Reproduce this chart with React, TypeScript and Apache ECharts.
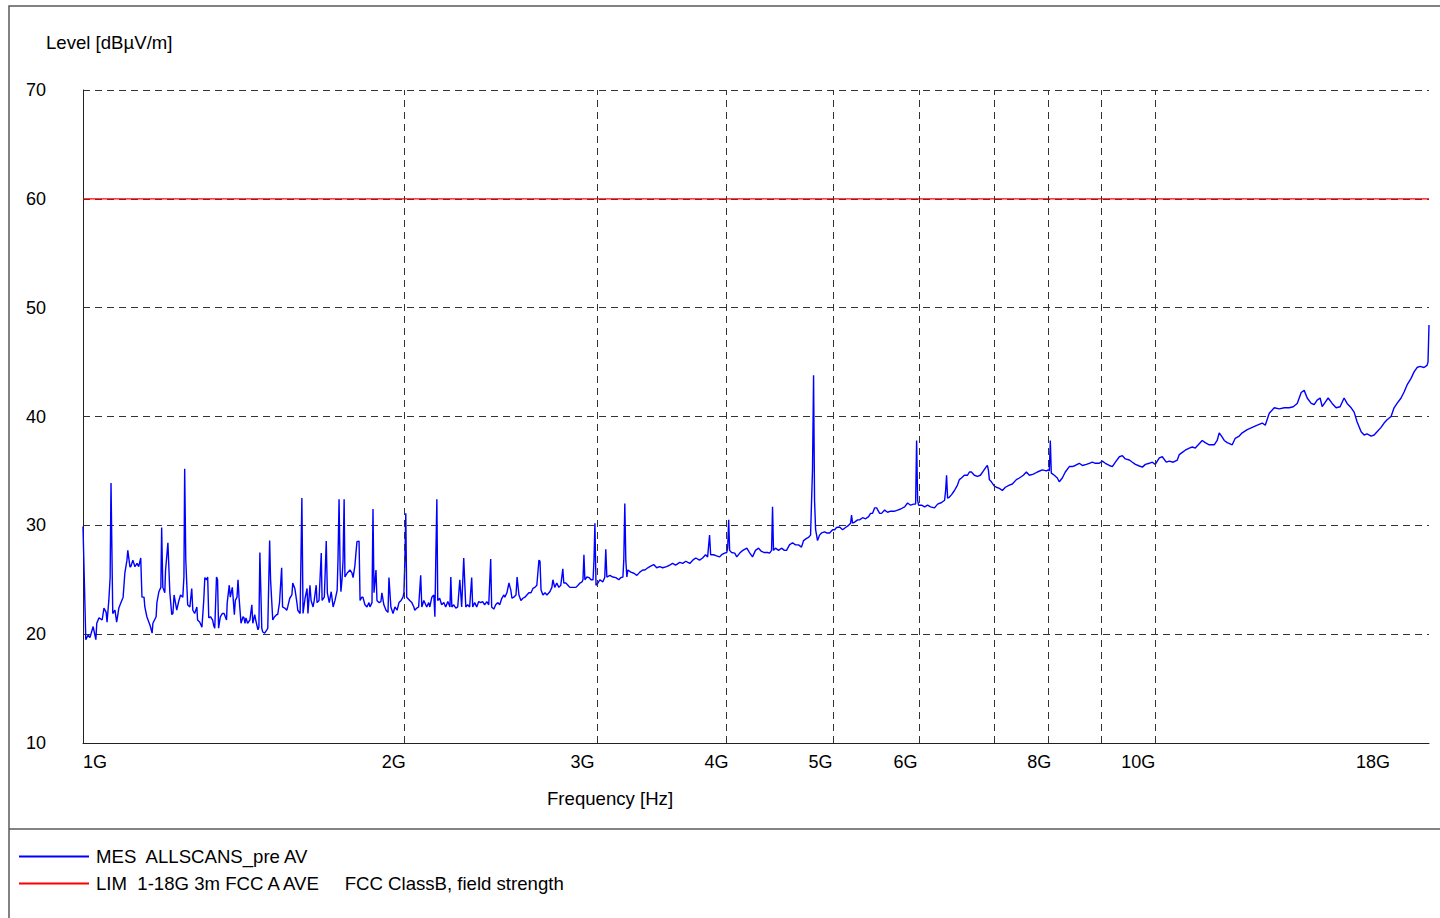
import React, { useEffect, useRef } from "react";
import * as echarts from "echarts";

// ---- Data (frequency in MHz, level in dBµV/m) ----
const MES_TRACE: [number, number][] = [
  [1000, 29.9], [1006, 19.5], [1011, 19.9], [1015, 19.7], [1020, 20.4], [1022, 20.7], [1028, 19.5], [1030, 21.0],
  [1035, 21.5], [1042, 21.3], [1046, 22.4], [1051, 22.0], [1053, 21.1], [1057, 23.1], [1060, 25.2], [1062, 33.9],
  [1066, 21.9], [1071, 22.2], [1075, 21.1], [1080, 22.4], [1085, 22.9], [1090, 23.4], [1094, 25.6], [1099, 26.8],
  [1101, 27.7], [1106, 26.2], [1108, 26.2], [1113, 26.8], [1118, 26.2], [1123, 26.5], [1127, 26.2], [1132, 27.0],
  [1135, 23.4], [1140, 23.4], [1142, 22.5], [1147, 21.6], [1152, 21.1], [1155, 20.8], [1160, 20.1], [1162, 21.0],
  [1170, 21.6], [1172, 22.9], [1177, 23.9], [1182, 24.3], [1184, 29.8], [1187, 24.3], [1192, 23.8], [1194, 25.9],
  [1200, 28.4], [1205, 23.8], [1210, 21.8], [1213, 21.9], [1216, 23.6], [1223, 22.2], [1228, 23.0], [1233, 23.6],
  [1239, 23.4], [1242, 25.25], [1244, 35.2], [1247, 26.8], [1252, 22.7], [1258, 22.5], [1263, 24.2], [1266, 22.2],
  [1271, 21.9], [1277, 22.5], [1279, 21.3], [1285, 21.1], [1291, 20.65], [1296, 23.1], [1299, 25.2], [1304, 25.0],
  [1307, 25.25], [1310, 21.5], [1315, 21.6], [1321, 21.3], [1324, 20.8], [1327, 20.55], [1332, 25.25], [1335, 25.0],
  [1338, 20.55], [1343, 21.6], [1349, 21.9], [1354, 21.9], [1361, 21.3], [1363, 22.9], [1369, 24.5], [1372, 23.4],
  [1378, 24.3], [1381, 23.1], [1384, 21.8], [1387, 23.1], [1392, 23.4], [1395, 25.0], [1398, 23.4], [1404, 21.0],
  [1410, 21.6], [1413, 21.5], [1416, 21.0], [1419, 21.5], [1424, 21.0], [1431, 21.3], [1437, 22.7], [1440, 21.0],
  [1446, 21.8], [1449, 21.3], [1456, 20.4], [1459, 20.65], [1462, 27.5], [1468, 20.55], [1471, 20.2], [1477, 20.1],
  [1484, 20.4], [1487, 20.55], [1493, 28.6], [1496, 25.0], [1503, 21.3], [1509, 21.6], [1516, 21.8], [1519, 21.8],
  [1525, 22.9], [1532, 26.1], [1535, 22.5], [1542, 22.4], [1549, 22.2], [1552, 22.5], [1559, 23.3], [1566, 23.6],
  [1569, 24.7], [1576, 24.2], [1583, 22.9], [1586, 22.2], [1594, 21.9], [1600, 32.5], [1604, 21.9], [1611, 23.3],
  [1618, 24.2], [1621, 21.9], [1628, 24.5], [1632, 23.1], [1639, 22.5], [1643, 23.1], [1650, 24.5], [1653, 22.9],
  [1660, 23.1], [1668, 27.45], [1671, 23.1], [1679, 23.4], [1686, 28.55], [1690, 23.8], [1697, 22.9], [1704, 23.9],
  [1711, 22.5], [1718, 23.1], [1726, 24.05], [1729, 26.8], [1733, 32.4], [1737, 25.9], [1740, 23.9], [1744, 25.0],
  [1748, 26.8], [1752, 32.4], [1755, 25.25], [1763, 25.6], [1774, 25.9], [1782, 25.6], [1786, 25.2], [1793, 26.3],
  [1797, 27.45], [1801, 28.5], [1809, 28.55], [1813, 23.1], [1820, 23.4], [1824, 23.4], [1832, 22.7], [1840, 22.5],
  [1848, 22.9], [1852, 22.5], [1860, 22.9], [1864, 31.5], [1868, 23.8], [1876, 25.9], [1880, 23.1], [1888, 22.9],
  [1896, 23.0], [1900, 23.8], [1908, 22.7], [1917, 22.2], [1925, 22.0], [1929, 25.2], [1937, 22.5], [1946, 21.9],
  [1954, 22.5], [1963, 22.2], [1971, 22.9], [1980, 23.1], [1988, 23.4], [1992, 23.8], [1996, 26.8], [2000, 31.1],
  [2004, 23.4], [2017, 23.1], [2026, 22.9], [2035, 22.5], [2039, 22.2], [2048, 22.4], [2056, 22.5], [2065, 25.4],
  [2070, 22.5], [2079, 23.1], [2092, 22.5], [2101, 22.9], [2106, 22.5], [2115, 23.4], [2124, 23.6], [2129, 21.6],
  [2133, 26.8], [2138, 32.4], [2142, 23.1], [2151, 23.3], [2160, 22.7], [2170, 22.9], [2179, 22.5], [2189, 23.0],
  [2199, 22.5], [2203, 25.25], [2208, 22.5], [2217, 22.7], [2227, 22.4], [2236, 22.5], [2246, 25.0], [2255, 22.5],
  [2265, 27.0], [2275, 22.5], [2284, 22.7], [2294, 22.5], [2304, 25.2], [2309, 22.5], [2319, 22.9], [2329, 22.5],
  [2339, 23.0], [2349, 22.9], [2359, 23.0], [2369, 22.7], [2380, 23.0], [2390, 22.7], [2400, 26.9], [2405, 22.5],
  [2416, 22.3], [2426, 22.7], [2436, 22.9], [2447, 22.7], [2458, 23.3], [2469, 23.6], [2474, 23.4], [2485, 23.8],
  [2496, 24.7], [2506, 24.05], [2512, 23.3], [2522, 23.4], [2534, 23.6], [2540, 25.25], [2550, 23.6], [2561, 23.1],
  [2572, 23.3], [2583, 23.4], [2594, 23.6], [2605, 23.8], [2617, 23.8], [2628, 24.2], [2639, 24.3], [2650, 24.5],
  [2662, 26.8], [2668, 26.7], [2674, 24.05], [2685, 23.6], [2697, 23.8], [2708, 23.6], [2725, 23.9], [2737, 24.3],
  [2743, 25.0], [2754, 24.3], [2766, 24.7], [2778, 24.3], [2790, 24.5], [2802, 26.0], [2808, 24.7], [2820, 24.7],
  [2833, 24.5], [2845, 24.3], [2863, 24.3], [2882, 24.3], [2895, 24.5], [2907, 24.7], [2920, 24.8], [2926, 25.0],
  [2932, 27.3], [2938, 25.0], [2951, 25.25], [2964, 25.2], [2977, 25.0], [2990, 25.0], [2996, 26.8], [3002, 30.2],
  [3009, 24.5], [3022, 24.7], [3034, 25.0], [3053, 24.8], [3066, 25.2], [3073, 27.8], [3080, 25.25], [3100, 25.4],
  [3120, 25.25], [3140, 25.2], [3160, 25.0], [3174, 25.2], [3188, 25.25], [3194, 26.8], [3201, 32.0], [3208, 26.8],
  [3215, 25.25], [3222, 25.9], [3243, 25.7], [3264, 25.6], [3285, 25.4], [3306, 25.7], [3327, 25.9], [3342, 25.9],
  [3363, 26.1], [3377, 26.2], [3406, 26.4], [3428, 26.1], [3450, 26.2], [3472, 26.1], [3502, 26.2], [3525, 26.35],
  [3547, 26.5], [3570, 26.35], [3602, 26.6], [3625, 26.5], [3649, 26.7], [3680, 26.5], [3704, 26.8], [3728, 27.0],
  [3758, 26.8], [3783, 27.0], [3807, 27.3], [3824, 27.1], [3840, 29.1], [3849, 27.3], [3873, 27.3], [3898, 27.2],
  [3924, 27.1], [3941, 27.3], [3966, 27.45], [3984, 27.5], [3992, 27.9], [4001, 30.5], [4009, 27.7], [4026, 27.5],
  [4053, 27.45], [4071, 27.1], [4097, 27.45], [4124, 27.7], [4160, 27.9], [4184, 27.5], [4211, 27.1], [4238, 27.7],
  [4266, 27.9], [4293, 27.6], [4321, 27.5], [4349, 27.5], [4368, 27.45], [4387, 27.7], [4396, 31.7], [4405, 27.7],
  [4424, 27.9], [4453, 27.7], [4481, 27.9], [4510, 27.7], [4530, 27.7], [4559, 28.2], [4589, 28.4], [4618, 28.2],
  [4648, 28.2], [4678, 28.0], [4699, 28.6], [4729, 28.8], [4750, 28.9], [4770, 29.1], [4790, 35.1], [4801, 43.8],
  [4811, 32.3], [4822, 29.6], [4842, 28.6], [4863, 29.1], [4884, 29.3], [4916, 29.4], [4937, 29.3], [4969, 29.3],
  [5001, 29.6], [5023, 29.6], [5044, 29.8], [5077, 29.85], [5110, 29.6], [5142, 29.8], [5176, 30.0], [5198, 30.2],
  [5209, 30.95], [5220, 30.2], [5243, 30.3], [5277, 30.5], [5299, 30.5], [5334, 30.7], [5369, 30.6], [5403, 30.8],
  [5426, 31.1], [5450, 31.1], [5473, 31.6], [5497, 31.6], [5533, 31.1], [5556, 31.1], [5592, 31.4], [5628, 31.2],
  [5664, 31.3], [5714, 31.3], [5751, 31.4], [5788, 31.5], [5838, 31.7], [5875, 32.05], [5913, 31.85], [5951, 31.95],
  [5977, 31.95], [5990, 37.8], [6003, 32.3], [6016, 31.85], [6054, 31.85], [6094, 31.7], [6133, 31.85], [6172, 31.7],
  [6225, 31.6], [6266, 31.95], [6320, 32.1], [6361, 32.3], [6375, 33.2], [6388, 34.6], [6402, 32.5], [6427, 32.6],
  [6455, 32.8], [6497, 33.2], [6539, 33.7], [6566, 34.2], [6595, 34.35], [6637, 34.6], [6680, 34.6], [6709, 34.9],
  [6738, 34.9], [6781, 34.6], [6825, 34.5], [6869, 34.6], [6914, 35.0], [6958, 35.4], [6973, 35.5], [6988, 35.1],
  [7003, 34.2], [7033, 34.0], [7078, 33.6], [7109, 33.5], [7155, 33.4], [7201, 33.2], [7248, 33.5], [7310, 33.7],
  [7357, 33.8], [7421, 34.2], [7469, 34.35], [7533, 34.6], [7582, 34.9], [7631, 34.6], [7697, 34.7], [7763, 34.9],
  [7846, 35.1], [7914, 35.0], [7948, 35.1], [7965, 35.0], [7982, 37.8], [7999, 34.8], [8051, 34.6], [8103, 34.35],
  [8137, 34.0], [8190, 34.35], [8243, 34.9], [8314, 35.4], [8368, 35.4], [8422, 35.5], [8495, 35.7], [8550, 35.5],
  [8624, 35.6], [8680, 35.7], [8736, 35.8], [8792, 35.7], [8868, 35.7], [8925, 35.9], [8983, 35.7], [9061, 35.5],
  [9120, 35.4], [9179, 35.8], [9258, 36.3], [9318, 36.4], [9378, 36.1], [9459, 36.0], [9520, 35.8], [9582, 35.6],
  [9664, 35.45], [9727, 35.35], [9790, 35.6], [9872, 35.7], [9936, 35.8], [10000, 35.6], [10087, 36.2], [10152, 36.3],
  [10239, 35.8], [10306, 35.9], [10394, 35.8], [10484, 36.0], [10529, 36.5], [10597, 36.7], [10665, 36.9], [10757, 37.1],
  [10827, 37.2], [10897, 37.1], [10990, 37.5], [11061, 37.8], [11132, 37.6], [11229, 37.4], [11350, 37.4], [11421, 37.8],
  [11472, 38.5], [11546, 38.1], [11596, 37.8], [11671, 37.6], [11797, 37.4], [11873, 38.0], [11975, 38.2], [12053, 38.5],
  [12184, 38.8], [12316, 39.0], [12449, 39.2], [12583, 39.4], [12664, 39.2], [12773, 40.3], [12911, 40.8], [13050, 40.7],
  [13191, 40.8], [13333, 40.8], [13448, 40.9], [13564, 41.2], [13680, 42.2], [13768, 42.4], [13857, 41.7], [13976, 41.2],
  [14066, 41.1], [14157, 41.5], [14248, 41.7], [14310, 40.9], [14402, 41.3], [14495, 41.7], [14620, 41.2], [14745, 40.8],
  [14872, 40.9], [15000, 41.7], [15097, 41.2], [15229, 40.8], [15327, 40.4], [15426, 39.5], [15559, 38.6], [15659, 38.3],
  [15760, 38.4], [15896, 38.2], [15999, 38.3], [16102, 38.6], [16240, 39.0], [16345, 39.4], [16451, 39.7], [16592, 40.0],
  [16699, 40.8], [16807, 41.2], [16952, 41.7], [17062, 42.25], [17172, 42.9], [17320, 43.5], [17432, 44.1], [17544, 44.5],
  [17657, 44.6], [17809, 44.5], [17924, 44.7], [17962, 45.0], [18000, 48.4],
];

const LIM_FREQ_GHZ = [1, 18];
const LIM_LEVEL = [60, 60];

const X_MIN_GHZ = 1;
const X_MAX_GHZ = 18;
const X_LABEL_GHZ = [1, 2, 3, 4, 5, 6, 8, 10, 18];
const X_GRID_GHZ = [2, 3, 4, 5, 6, 7, 8, 9, 10, 18];

const Y_MIN = 10;
const Y_MAX = 70;
const Y_STEP = 10;

const MES_NAME = "MES  ALLSCANS_pre AV";
const LIM_NAME = "LIM  1-18G 3m FCC A AVE     FCC ClassB, field strength";
const MES_COLOR = "#0000ff";
const LIM_COLOR = "#ff0000";
const Y_TITLE = "Level [dBµV/m]";
const X_TITLE = "Frequency [Hz]";

const FONT = "'Liberation Sans', Arial, Helvetica, sans-serif";
const FS = 18;
const FS_TEXT = 18.6;
const GRID_COLOR = "#333";
const FRAME_COLOR = "#5a5a5a";

export default function App() {
  const ref = useRef<HTMLDivElement>(null);

  useEffect(() => {
    if (!ref.current) return;
    const chart = echarts.init(ref.current, null, { renderer: "svg" });

    const mesData = MES_TRACE.map(([mhz, db]) => [Math.log10(mhz / 1000), db]);
    const limData = LIM_FREQ_GHZ.map((f, i) => [Math.log10(f), LIM_LEVEL[i]]);

    const option: any = {
      animation: false,
      backgroundColor: "#ffffff",
      textStyle: { fontFamily: FONT },
      grid: { left: 83, top: 90, right: 11, bottom: 175, containLabel: false },
      legend: {
        orient: "vertical",
        left: 13,
        top: 842,
        itemWidth: 70,
        itemHeight: 14,
        itemGap: 8,
        selectedMode: false,
        itemStyle: { opacity: 0 },
        data: [MES_NAME, LIM_NAME],
        textStyle: { fontSize: FS_TEXT, lineHeight: 18, color: "#000", fontFamily: FONT, padding: [0, 0, 0, 2] },
      },
      xAxis: {
        type: "value",
        min: Math.log10(X_MIN_GHZ),
        max: Math.log10(X_MAX_GHZ),
        axisLine: { show: true, lineStyle: { color: "#222", width: 1 } },
        axisTick: { show: false },
        splitLine: { show: false },
        axisLabel: {
          customValues: X_LABEL_GHZ.map((g) => Math.log10(g)),
          align: "right",
          alignMinLabel: "left",
          margin: 10,
          color: "#000",
          fontSize: FS,
          fontFamily: FONT,
          formatter: (v: number) => {
            const g = Math.round(Math.pow(10, v));
            return g === 18 ? "{s|18G}" : g + "G";
          },
          rich: {
            s: { padding: [0, 39, 0, 0], fontSize: FS, fontFamily: FONT, color: "#000" },
          },
        },
      },
      yAxis: {
        type: "value",
        min: Y_MIN,
        max: Y_MAX,
        interval: Y_STEP,
        axisLine: { show: true, lineStyle: { color: "#222", width: 1 } },
        axisTick: { show: false },
        axisLabel: { margin: 37, color: "#000", fontSize: FS, fontFamily: FONT },
        splitLine: { show: true, lineStyle: { color: GRID_COLOR, type: [7, 5], width: 1 } },
      },
      series: [
        {
          name: "grid-lines",
          type: "line",
          data: [],
          symbol: "none",
          silent: true,
          z: 1,
          markLine: {
            silent: true,
            symbol: ["none", "none"],
            label: { show: false },
            emphasis: { disabled: true },
            lineStyle: { color: GRID_COLOR, type: [7, 5], width: 1 },
            data: X_GRID_GHZ.map((g) => ({ xAxis: Math.log10(g) })),
          },
        },
        {
          name: MES_NAME,
          type: "line",
          data: mesData,
          symbol: "none",
          showSymbol: false,
          z: 4,
          color: MES_COLOR,
          lineStyle: { color: MES_COLOR, width: 1.4 },
          itemStyle: { color: MES_COLOR },
          emphasis: { disabled: true },
        },
        {
          name: LIM_NAME,
          type: "line",
          data: limData,
          symbol: "none",
          showSymbol: false,
          z: 3,
          color: LIM_COLOR,
          lineStyle: { color: LIM_COLOR, width: 1.2 },
          itemStyle: { color: LIM_COLOR },
          emphasis: { disabled: true },
        },
      ],
      graphic: [
        {
          type: "rect",
          silent: true,
          shape: { x: 9, y: 6, width: 1500, height: 1000 },
          style: { fill: "none", stroke: FRAME_COLOR, lineWidth: 1.5 },
        },
        {
          type: "line",
          silent: true,
          shape: { x1: 9, y1: 829, x2: 1440, y2: 829 },
          style: { stroke: FRAME_COLOR, lineWidth: 1.5 },
        },
        {
          type: "text",
          silent: true,
          x: 46,
          y: 42,
          style: { text: Y_TITLE, fontSize: FS_TEXT, fontFamily: FONT, fill: "#000", verticalAlign: "middle", align: "left" },
        },
        {
          type: "text",
          silent: true,
          x: 547,
          y: 798,
          style: { text: X_TITLE, fontSize: FS_TEXT, fontFamily: FONT, fill: "#000", verticalAlign: "middle", align: "left" },
        },
      ],
    };

    chart.setOption(option);
    return () => chart.dispose();
  }, []);

  return (
    <div
      ref={ref}
      style={{ position: "absolute", left: 0, top: 0, width: 1440, height: 918, background: "#fff" }}
    />
  );
}
